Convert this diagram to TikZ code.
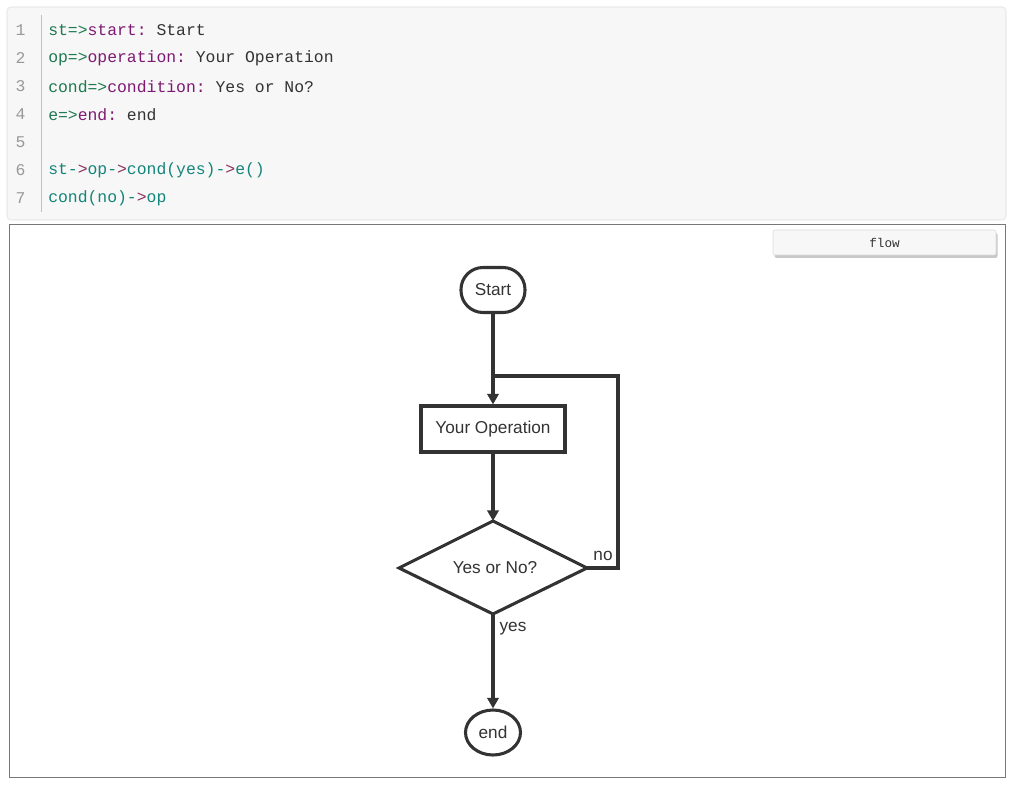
\documentclass[tikz,border=0pt]{standalone}
\usepackage{fontspec}
\setmainfont{Liberation Sans}
\setmonofont{Liberation Mono}
\usetikzlibrary{arrows.meta,shapes.geometric,shadows}
\definecolor{codebg}{HTML}{F7F7F7}
\definecolor{codeborder}{HTML}{DDDDDD}
\definecolor{idgreen}{HTML}{1E7A50}
\definecolor{kwpurple}{HTML}{7E1A72}
\definecolor{flowteal}{HTML}{14857A}
\definecolor{optext}{HTML}{8A2E5E}
\definecolor{plain}{HTML}{333333}
\definecolor{lnum}{HTML}{999999}
\definecolor{ink}{HTML}{333333}
\definecolor{frame}{HTML}{777777}
\begin{document}
\begin{tikzpicture}[x=0.75pt,y=-0.75pt,
  codeline/.style={anchor=west,inner sep=0pt,font=\ttfamily\fontsize{12.3}{14}\selectfont,text=plain},
  lnumst/.style={anchor=center,inner sep=0pt,font=\ttfamily\fontsize{12.3}{14}\selectfont,text=lnum},
  fnode/.style={draw=ink,line width=2.3pt,font=\fontsize{12.9}{15}\selectfont,text=ink,inner sep=0pt},
  conn/.style={draw=ink,line width=2.3pt},
  arr/.style={conn,-{Triangle[length=8pt,width=8.5pt]}},
  lbl/.style={font=\fontsize{12.9}{15}\selectfont,text=ink,inner sep=0pt}
]
\useasboundingbox (0,0) rectangle (1010,791);
\fill[white] (0,0) rectangle (1010,791);
% code panel
\draw[codeborder,fill=codebg,rounded corners=3pt] (7,7) rectangle (1006,220);
\draw[codeborder!70!gray,line width=0.75pt] (41,15) -- (41,212);
\foreach \n/\y in {1/30,2/58,3/86,4/114,5/142,6/170,7/198}
  \node[lnumst] (ln\n) at (20.5,\y) {\n};
\node[codeline] (c1) at (48,30.5) {\textcolor{idgreen}{st=>}\textcolor{kwpurple}{start:} Start};
\node[codeline] (c2) at (48,58.5) {\textcolor{idgreen}{op=>}\textcolor{kwpurple}{operation:} Your Operation};
\node[codeline] (c3) at (48,86.5) {\textcolor{idgreen}{cond=>}\textcolor{kwpurple}{condition:} Yes or No?};
\node[codeline] (c4) at (48,114.5) {\textcolor{idgreen}{e=>}\textcolor{kwpurple}{end:} end};
\node[codeline,text=flowteal] (c6) at (48,170.5) {st-\textcolor{optext}{>}op-\textcolor{optext}{>}cond(yes)-\textcolor{optext}{>}e()};
\node[codeline,text=flowteal] (c7) at (48,198.5) {cond(no)-\textcolor{optext}{>}op};
% diagram panel
\draw[frame,fill=white,line width=0.75pt] (9,225) rectangle (1005,777);
\node[draw=codeborder,fill=codebg,rounded corners=1.5pt,minimum width=223*0.75pt,minimum height=25*0.75pt,
  drop shadow={shadow xshift=1.2pt,shadow yshift=-2.2pt,opacity=0.3,fill=black!70},
  font=\ttfamily\fontsize{9.5}{11}\selectfont,text=plain] (flowbtn) at (884.5,242.5) {flow};
% flowchart
\node[fnode,rounded corners=22*0.75pt,minimum width=64*0.75pt,minimum height=45*0.75pt] (st) at (493,290) {Start};
\node[fnode,minimum width=144*0.75pt,minimum height=46*0.75pt] (op) at (493,429) {Your Operation};
\coordinate (dT) at (493,521);
\coordinate (dL) at (399,568);
\coordinate (dR) at (587,568);
\coordinate (dB) at (493,614);
\draw[conn,line join=miter] (dT) -- (dR) -- (dB) -- (dL) -- cycle;
\node[lbl] (cond) at (495,568) {Yes or No?};
\node[fnode,ellipse,minimum width=55*0.75pt,minimum height=45*0.75pt] (e) at (493,732.5) {end};
\coordinate (loopA) at (618,568);
\coordinate (loopB) at (618,376);
\coordinate (loopC) at (493,376);
\draw[arr] (st.south) -- (op.north);
\draw[arr] (op.south) -- (dT);
\draw[arr] (dB) -- (e.north);
\draw[conn,line join=miter] (dR) -- (loopA) -- (loopB) -- (loopC);
\node[lbl] (nolbl) at (603,556) {no};
\node[lbl] (yeslbl) at (513,629) {yes};
\end{tikzpicture}
\end{document}
